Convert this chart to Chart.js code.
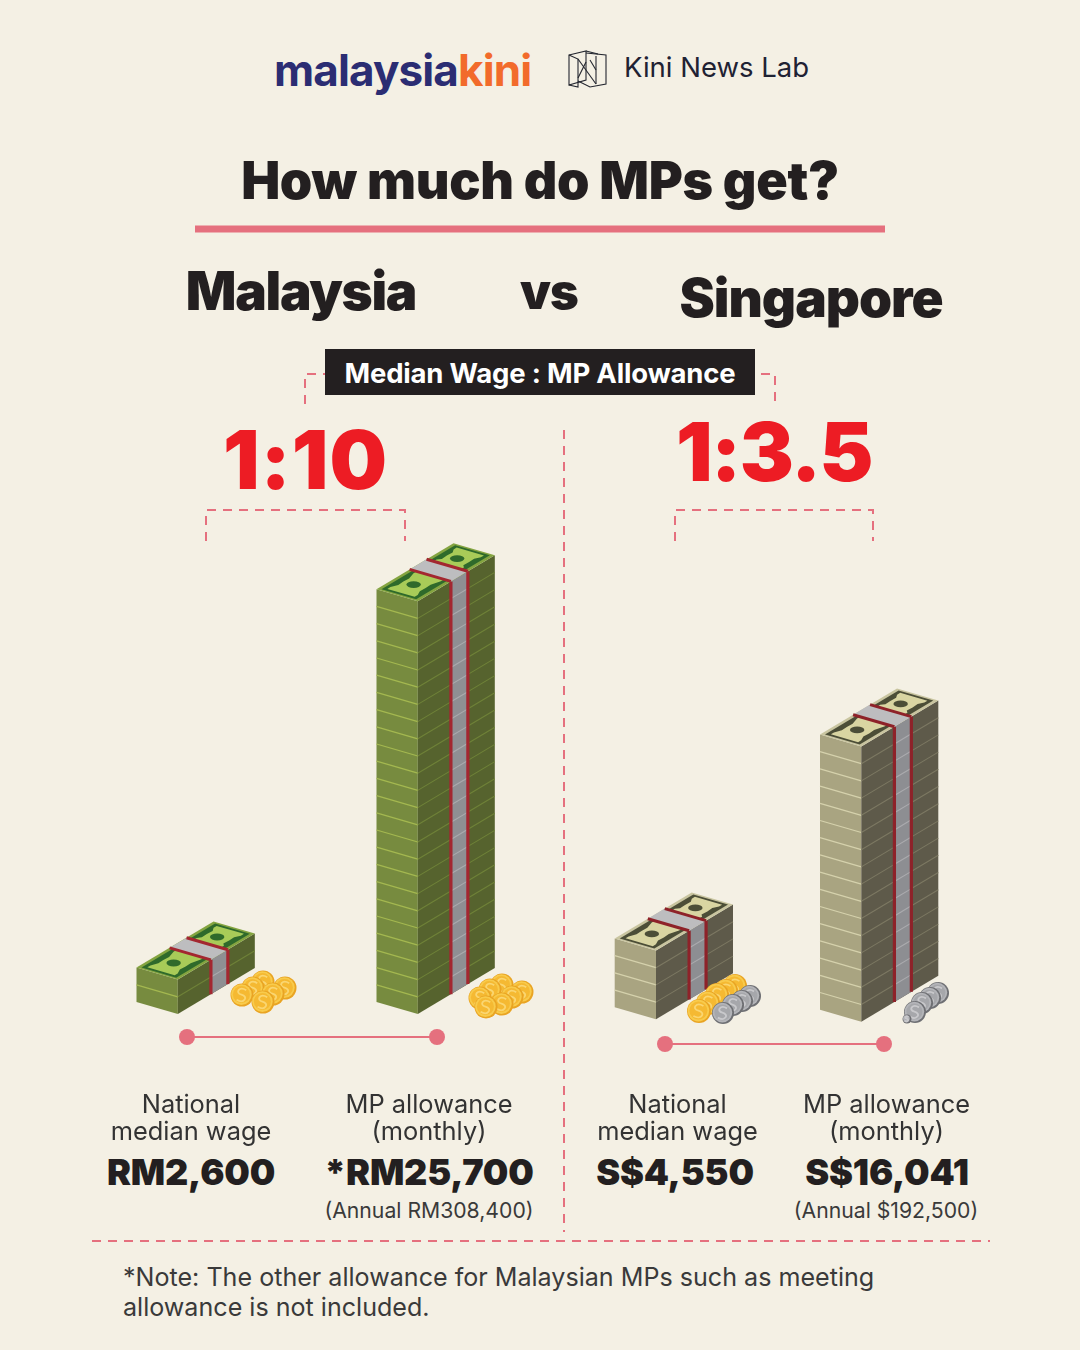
<!DOCTYPE html>
<html><head><meta charset="utf-8">
<script src="https://cdn.jsdelivr.net/npm/chart.js@4"></script>
<style>
html,body{margin:0;padding:0;background:#F4F0E4;}
#page{position:relative;width:1080px;height:1350px;overflow:hidden;background:#F4F0E4;font-family:Inter,"Noto Sans",sans-serif;color:#231F20;}
canvas{position:absolute;}
svg{position:absolute;left:0;top:0;}
.t{position:absolute;white-space:nowrap;transform:translateX(-50%);line-height:1;}
.head{font-weight:900;letter-spacing:-1px;}
.val{font-weight:900;font-size:36px;letter-spacing:-.2px;}
.ann{font-size:21.2px;color:#3A3A3A;}
.ratio{font-weight:900;color:#ED1C24;font-size:81px;letter-spacing:-1.5px;}
</style></head><body>
<div id="page">
<svg id="deco" width="1080" height="1350" style="z-index:1"></svg>
<canvas id="leftChart" style="left:72px;top:520px;z-index:2"></canvas>
<canvas id="rightChart" style="left:573px;top:526px;z-index:2"></canvas>
<svg id="coins" width="1080" height="1350" style="z-index:3"></svg>

<div class="t" style="left:274px;top:48px;transform:none;font-size:44px;font-weight:700;letter-spacing:-.88px;color:#2B2D73">malaysia<span style="color:#F26B2B">kini</span></div>
<div class="t" style="left:624px;top:54px;transform:none;font-size:27.5px;color:#1F2233">Kini News Lab</div>
<div class="t head" style="left:540px;top:155px;font-size:52px;letter-spacing:-.3px">How much do MPs get?</div>
<div class="t head" style="left:301px;top:265px;font-size:53px;letter-spacing:-1.3px">Malaysia</div>
<div class="t head" style="left:549px;top:267px;font-size:49px">vs</div>
<div class="t head" style="left:811px;top:272px;font-size:53px">Singapore</div>
<div style="position:absolute;left:325px;top:349px;width:430px;height:46px;background:#231F20;z-index:4"></div>
<div class="t" style="left:540px;top:360px;font-size:27.5px;font-weight:700;color:#fff;z-index:5;letter-spacing:-.2px">Median Wage : MP Allowance</div>
<div class="t ratio" style="left:305.5px;top:420px;letter-spacing:1px">1:10</div>
<div class="t ratio" style="left:774px;top:412px">1:3.5</div>

<div class="t val" style="left:191px;top:1154px">RM2,600</div>
<div class="t val" style="left:429px;top:1154px">*RM25,700</div>
<div class="t val" style="left:675px;top:1154px">S$4,550</div>
<div class="t val" style="left:887px;top:1154px">S$16,041</div>
<div class="t ann" style="left:429px;top:1200px">(Annual RM308,400)</div>
<div class="t ann" style="left:886px;top:1200px">(Annual $192,500)</div>
<div class="t" style="left:123px;top:1262px;transform:none;font-size:25.1px;line-height:30px;color:#3A3A3A">*Note: The other allowance for Malaysian MPs such as meeting<br>allowance is not included.</div>
</div>
<script>
// ----- data -----
const leftCategories  = [["National","median wage"],["MP allowance","(monthly)"]];
const rightCategories = [["National","median wage"],["MP allowance","(monthly)"]];
// number of bill layers in each money stack
const leftLayers  = [2, 24];
const rightLayers = [4, 16];
// printed amounts behind the stacks
const malaysiaAmounts  = [2600, 25700];
const singaporeAmounts = [4550, 16041];
// ----- styles -----
const leftFaceColors  = ["#778B3F","#778B3F"];
const rightFaceColors = ["#A9A481","#A9A481"];
const greenTheme = {side:"#56632E",line:"#A4B850",sideLine:"#6F8238",rim:"#84A440",dark:"#2F6A2B",light:"#A8CB58",band:"#BDBDBF",bandSide:"#8F8F93",bandLine:"#ABABAE",red:"#A32730"};
const khakiTheme = {side:"#5E5A4A",line:"#D5D1AC",sideLine:"#7C7862",rim:"#C9C5A0",dark:"#4C4E37",light:"#D9D5A2",band:"#BDBDBF",bandSide:"#8D8E92",bandLine:"#ABABAE",red:"#8E2229"};
const EDGE_A = {x:41.3,y:12}, EDGE_B = {x:77,y:-46};
const BAND = [0.43,0.65];

function poly(ctx,pts,fill){ctx.beginPath();pts.forEach((p,i)=>i?ctx.lineTo(p.x,p.y):ctx.moveTo(p.x,p.y));ctx.closePath();ctx.fillStyle=fill;ctx.fill();}
function seg(ctx,a,b,color,w){ctx.beginPath();ctx.moveTo(a.x,a.y);ctx.lineTo(b.x,b.y);ctx.strokeStyle=color;ctx.lineWidth=w;ctx.stroke();}

function drawStack(ctx,bar,layers,faceColor,theme,shift){
  const Lx=bar.x+shift.x, top=bar.y+shift.y, base=bar.base+shift.y;
  const h=base-top, step=h/layers;
  const P=(u,v)=>({x:Lx+u*EDGE_A.x+v*EDGE_B.x,y:top+u*EDGE_A.y+v*EDGE_B.y});
  const down=(p,d)=>({x:p.x,y:p.y+d});
  const F=P(1,0), R=P(1,1), L=P(0,0);
  poly(ctx,[L,F,down(F,h),down(L,h)],faceColor);
  poly(ctx,[F,R,down(R,h),down(F,h)],theme.side);
  for(let k=1;k<layers;k++){
    seg(ctx,down(L,k*step),down(F,k*step),theme.line,1.3);
    seg(ctx,down(F,k*step),down(R,k*step),theme.sideLine,1.1);
  }
  // paper band on the long side
  const b0=P(1,BAND[0]), b1=P(1,BAND[1]);
  poly(ctx,[b0,b1,down(b1,h),down(b0,h)],theme.bandSide);
  for(let k=1;k<layers;k++) seg(ctx,down(b0,k*step),down(b1,k*step),theme.bandLine,1.1);
  seg(ctx,b0,down(b0,h),theme.red,3.2);
  seg(ctx,b1,down(b1,h),theme.red,3.2);
  // top face
  poly(ctx,[L,F,R,P(0,1)],theme.rim);
  poly(ctx,[P(.08,.022),P(.92,.022),P(.92,.978),P(.08,.978)],theme.dark);
  [[.0,.43,.225],[.65,1,.79]].forEach(([v0,v1,c])=>{
    const a=Math.max(v0,.05), b=Math.min(v1,.95);
    poly(ctx,[P(.17,a),P(.83,a),P(.83,a+.04),P(.76,c-.07),P(.77,c),P(.76,c+.07),P(.83,b-.04),P(.83,b),P(.17,b),P(.17,b-.04),P(.24,c+.07),P(.23,c),P(.24,c-.07),P(.17,a+.04)],theme.light);
    const e=P(.48,c);
    ctx.beginPath();ctx.ellipse(e.x,e.y,7.2,3.4,0,0,Math.PI*2);ctx.fillStyle=theme.dark;ctx.fill();
  });
  poly(ctx,[P(0,BAND[0]),P(1,BAND[0]),P(1,BAND[1]),P(0,BAND[1])],theme.band);
  seg(ctx,P(0,BAND[0]),P(1,BAND[0]),theme.red,3);
  seg(ctx,P(0,BAND[1]),P(1,BAND[1]),theme.red,3);
}

const moneyStacks={id:"moneyStacks",beforeDatasetDraw(chart,args,opts){
  const ds=chart.data.datasets[args.index], meta=chart.getDatasetMeta(args.index);
  meta.data.forEach((bar,i)=>drawStack(chart.ctx,bar,ds.data[i],ds.backgroundColor[i],opts.theme,opts.shifts[i]));
  return false;
}};

function makeChart(id,w,h,plotH,tickGap,labels,name,values,colors,theme,shifts){
  const el=document.getElementById(id);
  el.style.width=w+"px";el.style.height=h+"px";el.width=w;el.height=h;
  return new Chart(el,{type:"bar",plugins:[moneyStacks],
    data:{labels,datasets:[{label:name,data:values,backgroundColor:colors,barThickness:118}]},
    options:{responsive:false,animation:false,devicePixelRatio:1,layout:{padding:0},
      plugins:{legend:{display:false},tooltip:{enabled:false},moneyStacks:{theme,shifts}},
      scales:{
        x:{grid:{display:false,drawTicks:false},border:{display:false},
           afterFit(s){s.height=h-plotH;s.paddingLeft=0;s.paddingRight=0;},
           ticks:{padding:tickGap,maxRotation:0,minRotation:0,autoSkip:false,color:"#333333",font:{family:"Inter",size:25.4,lineHeight:1.05}}},
        y:{display:false,min:0,max:plotH/17.2}
      }}});
}
makeChart("leftChart",476,630,482,90,leftCategories,"Bill layers, Malaysia",leftLayers,leftFaceColors,greenTheme,[{x:-54.5,y:0},{x:-52.5,y:0}]);
makeChart("rightChart",418,624,482,84,rightCategories,"Bill layers, Singapore",rightLayers,rightFaceColors,khakiTheme,[{x:-62.8,y:-.7},{x:-66.5,y:1.7}]);

// ----- decoration -----
const NS="http://www.w3.org/2000/svg";
function add(svg,tag,attrs){const e=document.createElementNS(NS,tag);for(const k in attrs)e.setAttribute(k,attrs[k]);svg.appendChild(e);return e;}
const deco=document.getElementById("deco"), coins=document.getElementById("coins");
const PINK="#E5707E";
add(deco,"rect",{x:195,y:225.5,width:690,height:7,fill:PINK});
["M305 404V374H325","M775 401V374H755","M206 541V510H405V541","M675 541V510H873V541","M564 430V1232","M92 1241H990"].forEach(d=>
  add(deco,"path",{d,fill:"none",stroke:PINK,"stroke-width":2,"stroke-dasharray":"9 7"}));
[[187,437,1037],[665,884,1044]].forEach(([a,b,y])=>{
  add(deco,"line",{x1:a,x2:b,y1:y,y2:y,stroke:PINK,"stroke-width":2});
  add(deco,"circle",{cx:a,cy:y,r:8,fill:PINK});add(deco,"circle",{cx:b,cy:y,r:8,fill:PINK});
});
// logo mark
["M569 55L586 51V80L569 85Z","M569 55L578 59V87L569 85","M586 51L598 54","M586 53L606 55V84L590 87L578 81","M596 56V84","M578 59L596 84","M586 62L578 78","M590 60L596 70"].forEach(d=>
  add(deco,"path",{d,fill:"none",stroke:"#23262F","stroke-width":1.1}));

function coin(x,y,r,silver){
  const c=silver?{edge:"#6E6F73",face:"#B4B5B9",inner:"#A6A7AB",s:"#C9C9CC"}:{edge:"#E9A423",face:"#F8CB4C",inner:"#F5B932",s:"#FAD672"};
  add(coins,"circle",{cx:x,cy:y,r:r,fill:c.edge});
  add(coins,"circle",{cx:x-.6,cy:y-.4,r:r-1.2,fill:c.face});
  add(coins,"circle",{cx:x-.6,cy:y-.4,r:r-3,fill:c.inner});
  const s=r*.42;
  add(coins,"path",{d:`M${x+s-.6} ${y-s} C${x-s*.6} ${y-s*1.9} ${x-s*1.5} ${y-s*.4} ${x-.6} ${y-.4} C${x+s*1.4} ${y+s*.3} ${x+s*.5} ${y+s*1.9} ${x-s-.6} ${y+s}`,fill:"none",stroke:c.s,"stroke-width":1.8});
}
[[263,982],[285,988],[253,988],[273,994],[242,995],[263,1002]].forEach(p=>coin(p[0],p[1],11.5,false));
[[502,985],[522,992],[490,990],[512,997],[480,998],[502,1004],[486,1007]].forEach(p=>coin(p[0],p[1],11.5,false));
[[735,986],[726,991],[717,995],[708,1003],[699,1011]].forEach(p=>coin(p[0],p[1],12,false));
[[750,996],[742,1001],[733,1005],[723,1013]].forEach(p=>coin(p[0],p[1],11,true));
[[938,993],[930,998],[922,1003],[915,1012]].forEach(p=>coin(p[0],p[1],11,true));
coin(907,1019,4.5,true);
</script>
</body></html>
